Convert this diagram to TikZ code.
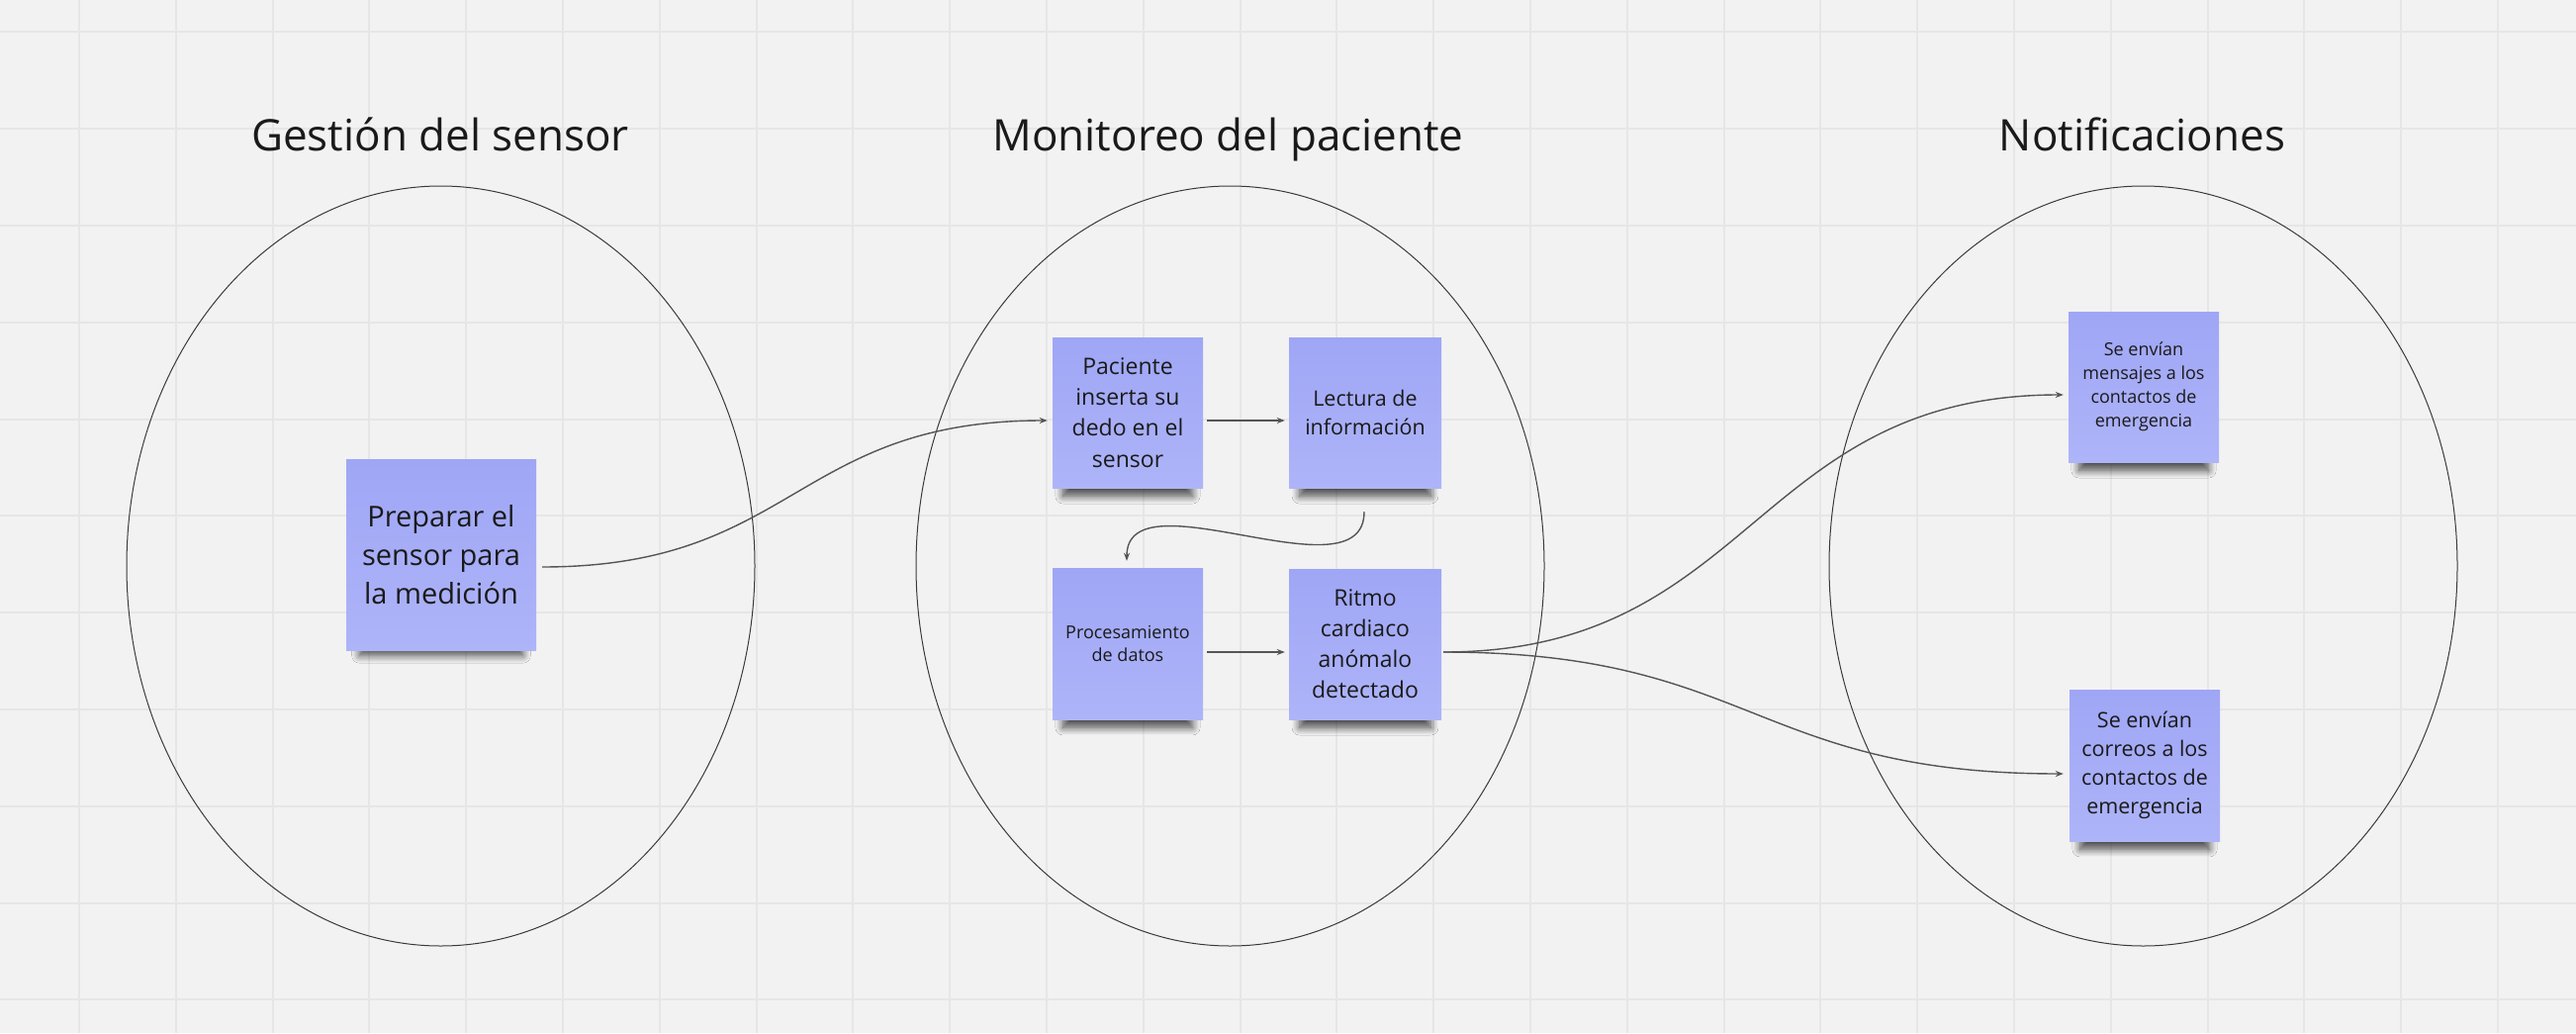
\documentclass[tikz,border=0pt]{standalone}
\usepackage{fontspec}
\setmainfont{Open Sans}
\usetikzlibrary{calc,arrows.meta,shadows.blur}
\definecolor{bgcol}{HTML}{F2F2F2}
\definecolor{gridcol}{HTML}{E6E6E6}
\definecolor{inkcol}{HTML}{1A1A1A}
\definecolor{notetop}{HTML}{9FA6F5}
\definecolor{notebot}{HTML}{AEB4F8}
\definecolor{edgecol}{HTML}{3A3A3A}
\definecolor{conncol}{HTML}{555555}
\begin{document}
\begin{tikzpicture}[x=1pt,y=-1pt,
  note/.style={rectangle, inner sep=0pt, top color=notetop, bottom color=notebot,
    text=inkcol, align=center,
    blur shadow={shadow xshift=0pt, shadow yshift=-22pt, shadow scale=0.86,
      shadow blur radius=9pt, shadow blur steps=10, shadow opacity=70}},
  region/.style={draw=edgecol, line width=1pt},
  titletext/.style={anchor=base, text=inkcol, font=\fontsize{44}{52}\selectfont},
  link/.style={draw=conncol, line width=1.4pt, -{Stealth[length=8pt,width=6pt]}}
]
\fill[bgcol] (0,0) rectangle (2604,1044);
\useasboundingbox (0,0) rectangle (2604,1044);
\foreach \k in {0,...,25} \draw[gridcol, line width=2pt] ({80+97.8*\k},0) -- ({80+97.8*\k},1044);
\foreach \k in {0,...,10} \draw[gridcol, line width=2pt] (0,{32.3+97.8*\k}) -- (2604,{32.3+97.8*\k});

\draw[region] (445.5,572) ellipse [x radius=317.5pt, y radius=384pt];
\draw[region] (1243.5,572) ellipse [x radius=317.5pt, y radius=384pt];
\draw[region] (2166.5,572) ellipse [x radius=317.5pt, y radius=384pt];

\node[titletext] (t1) at (445,152) {Gestión del sensor};
\node[titletext] (t2) at (1241.5,152) {Monitoreo del paciente};
\node[titletext] (t3) at (2165.5,152) {Notificaciones};

\node[note, minimum width=192pt, minimum height=193pt, font=\fontsize{29}{39.3}\selectfont] (prep) at (446,560.5) {Preparar el\\sensor para\\la medición};
\node[note, minimum width=152pt, minimum height=152pt, font=\fontsize{23}{31.3}\selectfont] (pac) at (1140,417) {Paciente\\inserta su\\dedo en el\\sensor};
\node[note, minimum width=154pt, minimum height=152pt, font=\fontsize{21.5}{28.5}\selectfont] (lec) at (1380,417) {Lectura de\\información};
\node[note, minimum width=152pt, minimum height=153pt, font=\fontsize{18}{23.5}\selectfont] (proc) at (1140,650.5) {Procesamiento\\de datos};
\node[note, minimum width=154pt, minimum height=152pt, font=\fontsize{23}{31}\selectfont] (rit) at (1380,651) {Ritmo\\cardiaco\\anómalo\\detectado};
\node[note, minimum width=152pt, minimum height=152pt, font=\fontsize{18}{24}\selectfont] (msg) at (2167,391) {Se envían\\mensajes a los\\contactos de\\emergencia};
\node[note, minimum width=152pt, minimum height=153pt, font=\fontsize{21.5}{29.2}\selectfont] (mail) at (2168,773.5) {Se envían\\correos a los\\contactos de\\emergencia};

\draw[link] ($(prep.east)+(6,12.5)$) .. controls +(255,0) and +(-255,0) .. ($(pac.west)+(-5,8)$);
\draw[link] ($(pac.east)+(4,8)$) -- ($(lec.west)+(-4,8)$);
\draw[link] ($(lec.south)+(-1,24)$) .. controls +(0,90) and +(0,-90) .. ($(proc.north)+(-1,-7)$);
\draw[link] ($(proc.east)+(4,8.5)$) -- ($(rit.west)+(-4,8)$);
\draw[link] ($(rit.east)+(2,8)$) .. controls +(313,0) and +(-313,0) .. ($(msg.west)+(-5,8)$);
\draw[link] ($(rit.east)+(2,8)$) .. controls +(313,0) and +(-313,0) .. ($(mail.west)+(-6,8.5)$);
\end{tikzpicture}
\end{document}
